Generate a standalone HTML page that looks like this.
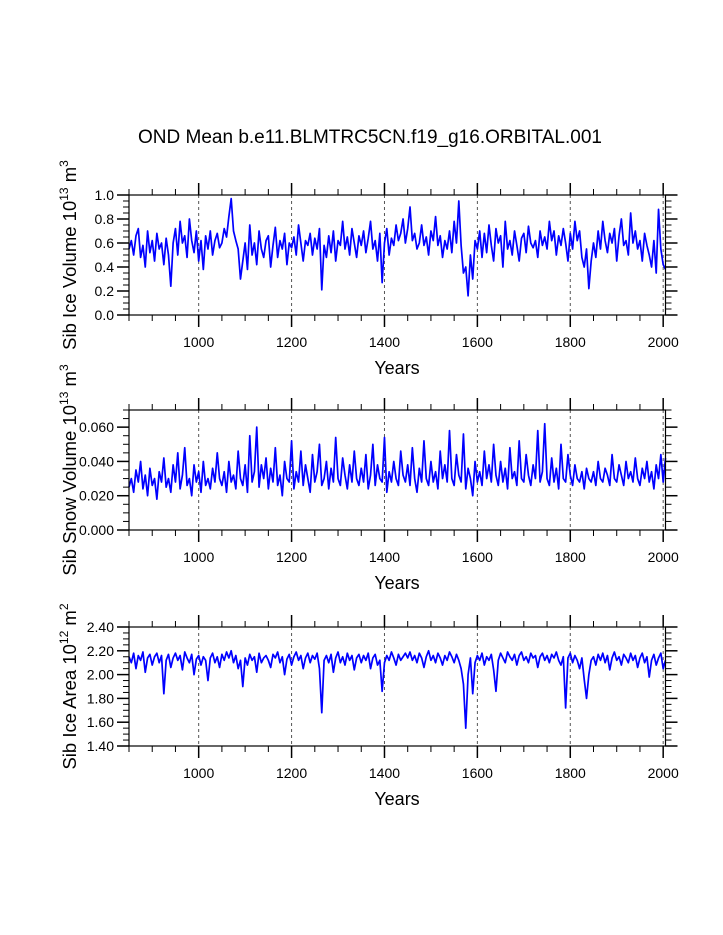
<!DOCTYPE html>
<html><head><meta charset="utf-8">
<style>
html,body{margin:0;padding:0;background:#fff;}
svg{display:block;font-family:"Liberation Sans",Arial,sans-serif;}
</style></head>
<body>
<svg id="chart" width="723" height="935" viewBox="0 0 723 935" xmlns="http://www.w3.org/2000/svg">
<text x="370" y="143" text-anchor="middle" font-size="19">OND Mean b.e11.BLMTRC5CN.f19_g16.ORBITAL.001</text>
</svg>
<script>
const years0 = 850, yearStep = 5;
const xTicks = [1000,1200,1400,1600,1800,2000];
const iceVolume = [
0.55,0.62,0.50,0.66,0.72,0.48,0.58,0.40,0.70,0.52,0.62,0.45,0.68,0.55,0.60,0.42,0.64,0.50,0.24,0.60,
0.72,0.50,0.78,0.60,0.66,0.48,0.80,0.62,0.52,0.70,0.45,0.62,0.38,0.66,0.55,0.70,0.50,0.62,0.68,0.56,
0.60,0.72,0.65,0.82,0.97,0.70,0.62,0.55,0.30,0.45,0.60,0.38,0.75,0.50,0.60,0.42,0.70,0.55,0.48,0.62,
0.66,0.40,0.58,0.73,0.48,0.62,0.55,0.68,0.42,0.60,0.56,0.65,0.50,0.75,0.60,0.45,0.62,0.58,0.68,0.50,
0.64,0.55,0.72,0.21,0.58,0.48,0.66,0.52,0.70,0.45,0.62,0.58,0.78,0.55,0.65,0.50,0.72,0.60,0.48,0.66,
0.58,0.70,0.52,0.64,0.78,0.55,0.62,0.45,0.68,0.27,0.60,0.72,0.50,0.64,0.58,0.75,0.62,0.68,0.80,0.60,
0.72,0.90,0.62,0.68,0.55,0.60,0.75,0.58,0.65,0.50,0.70,0.62,0.82,0.58,0.66,0.48,0.62,0.55,0.70,0.52,
0.78,0.60,0.95,0.58,0.35,0.40,0.16,0.50,0.30,0.62,0.55,0.70,0.48,0.68,0.52,0.75,0.58,0.45,0.72,0.60,
0.66,0.40,0.78,0.55,0.62,0.50,0.70,0.58,0.45,0.64,0.68,0.52,0.74,0.60,0.56,0.62,0.48,0.70,0.58,0.65,
0.55,0.78,0.62,0.70,0.50,0.66,0.58,0.72,0.60,0.45,0.68,0.55,0.78,0.62,0.70,0.48,0.40,0.55,0.22,0.45,
0.60,0.48,0.70,0.55,0.78,0.62,0.52,0.68,0.60,0.72,0.45,0.66,0.80,0.58,0.62,0.50,0.85,0.60,0.70,0.55,
0.62,0.45,0.68,0.58,0.50,0.40,0.62,0.35,0.88,0.55,0.42,0.38];
const snowVolume = [
0.025,0.030,0.022,0.035,0.028,0.040,0.024,0.032,0.020,0.036,0.026,0.030,0.018,0.034,0.028,0.042,0.025,0.030,0.022,0.038,
0.028,0.045,0.024,0.032,0.048,0.026,0.030,0.020,0.038,0.028,0.034,0.022,0.040,0.026,0.030,0.024,0.036,0.028,0.045,0.030,
0.026,0.034,0.022,0.040,0.028,0.032,0.024,0.046,0.030,0.026,0.038,0.022,0.055,0.028,0.034,0.060,0.025,0.038,0.030,0.042,
0.024,0.036,0.028,0.048,0.026,0.032,0.020,0.040,0.030,0.028,0.052,0.024,0.034,0.028,0.046,0.026,0.038,0.030,0.022,0.044,
0.028,0.034,0.050,0.026,0.030,0.040,0.024,0.036,0.028,0.054,0.030,0.026,0.042,0.032,0.024,0.038,0.028,0.046,0.030,0.026,
0.036,0.028,0.044,0.024,0.032,0.050,0.026,0.038,0.030,0.028,0.054,0.022,0.034,0.028,0.040,0.030,0.026,0.046,0.032,0.028,
0.038,0.026,0.048,0.030,0.022,0.036,0.028,0.052,0.030,0.026,0.040,0.028,0.034,0.024,0.046,0.030,0.038,0.028,0.058,0.030,
0.026,0.044,0.032,0.028,0.056,0.024,0.036,0.030,0.020,0.040,0.028,0.034,0.026,0.046,0.030,0.038,0.028,0.050,0.032,0.026,
0.040,0.028,0.036,0.024,0.048,0.030,0.034,0.026,0.052,0.030,0.028,0.044,0.032,0.026,0.038,0.030,0.058,0.028,0.034,0.062,
0.030,0.026,0.042,0.028,0.036,0.024,0.050,0.030,0.028,0.044,0.032,0.026,0.038,0.030,0.028,0.034,0.024,0.036,0.030,0.028,
0.034,0.026,0.040,0.030,0.028,0.036,0.032,0.026,0.044,0.030,0.028,0.038,0.032,0.026,0.040,0.030,0.034,0.028,0.042,0.030,
0.026,0.036,0.030,0.040,0.028,0.034,0.024,0.038,0.030,0.044,0.028,0.042];
const iceArea = [
2.15,2.10,2.18,2.05,2.16,2.12,2.19,2.02,2.14,2.17,2.08,2.15,2.18,2.10,2.16,1.84,2.12,2.17,2.06,2.14,
2.18,2.12,2.16,2.04,2.19,2.14,2.10,2.17,2.00,2.13,2.16,2.08,2.15,2.12,1.95,2.14,2.18,2.10,2.15,2.06,
2.17,2.12,2.19,2.14,2.20,2.10,2.16,2.05,2.12,1.90,2.14,2.08,2.17,2.12,2.15,2.02,2.18,2.10,2.14,2.16,
2.12,2.06,2.17,2.14,2.19,2.10,2.15,2.00,2.13,2.17,2.08,2.15,2.19,2.12,2.16,2.05,2.14,2.18,2.10,2.16,
2.13,2.18,2.05,1.68,2.12,2.16,2.10,2.17,2.02,2.14,2.19,2.10,2.15,2.08,2.18,2.12,2.16,2.04,2.14,2.17,
2.10,2.16,2.12,2.18,2.05,2.14,2.17,2.08,2.12,1.86,2.10,2.16,2.12,2.19,2.14,2.08,2.17,2.12,2.15,2.18,
2.14,2.19,2.12,2.16,2.10,2.18,2.14,2.06,2.15,2.20,2.12,2.16,2.10,2.18,2.14,2.08,2.16,2.12,2.19,2.15,
2.10,2.17,2.12,2.05,1.92,1.55,2.00,2.14,1.84,2.10,2.16,2.12,2.18,2.08,2.15,2.12,2.17,2.04,1.86,2.12,
2.18,2.14,2.10,2.19,2.15,2.12,2.17,2.08,2.16,2.19,2.12,2.15,2.10,2.18,2.14,2.16,2.06,2.15,2.18,2.12,
2.16,2.10,2.17,2.14,2.19,2.12,2.08,2.15,1.72,2.14,2.18,2.10,2.16,2.12,2.05,2.14,1.96,1.80,2.00,2.12,
2.15,2.08,2.17,2.12,2.18,2.10,2.16,2.04,2.14,2.19,2.12,2.15,2.08,2.17,2.14,2.10,2.18,2.12,2.16,2.06,
2.14,2.18,2.10,2.15,1.98,2.12,2.17,2.08,2.14,2.18,2.05,2.12];
const iceTicks = ["0.0","0.2","0.4","0.6","0.8","1.0"];
const snowTicks = ["0.000","0.020","0.040","0.060"];
const areaTicks = ["1.40","1.60","1.80","2.00","2.20","2.40"];

const NS="http://www.w3.org/2000/svg";
const svg=document.getElementById('chart');
const X0=129, X1=665.5, XMIN=850, XMAX=2005;
const xs=v=>X0+(v-XMIN)/(XMAX-XMIN)*(X1-X0);
function mk(tag,attrs,parent){const e=document.createElementNS(NS,tag);for(const k in attrs)e.setAttribute(k,attrs[k]);(parent||svg).appendChild(e);return e;}

function panel(name,top,bot,ymin,ymax,major,minor,ticks,data,label,expo,unitExp){
  const g=mk('g',{});
  
  
  const ys=v=>bot-(v-ymin)/(ymax-ymin)*(bot-top);
  xTicks.forEach(t=>{const l=mk('line',{x1:xs(t),x2:xs(t),y1:top,y2:bot,stroke:'#555','stroke-width':1,'stroke-dasharray':'3,3'},g);
    });
  let d='';data.forEach((v,i)=>{d+=(i?'L':'M')+xs(years0+i*yearStep).toFixed(2)+','+ys(v).toFixed(2);});
  const p=mk('path',{d:d,fill:'none',stroke:'#0000ff','stroke-width':1.7,'stroke-linejoin':'round'},g);
  
  const r=mk('rect',{x:X0,y:top,width:X1-X0,height:bot-top,fill:'none',stroke:'#000','stroke-width':1.2},g);
  
  for(let t=XMIN;t<=XMAX;t+=50){const mj=(t%200===0);const L=mj?12:6;
    mk('line',{x1:xs(t),x2:xs(t),y1:top,y2:top-L,stroke:'#000','stroke-width':mj?1.5:1},g);
    mk('line',{x1:xs(t),x2:xs(t),y1:bot,y2:bot+L,stroke:'#000','stroke-width':mj?1.5:1},g);}
  xTicks.forEach(t=>{const tx=mk('text',{x:xs(t),y:bot+32,'text-anchor':'middle','font-size':14},g);tx.textContent=t;
    });
  const yt=mk('text',{x:397,y:bot+59,'text-anchor':'middle','font-size':18},g);yt.textContent='Years';
  
  const n=Math.round((ymax-ymin)/minor);
  for(let i=0;i<=n;i++){const v=ymin+i*minor;const mj=Math.abs(Math.round((v-ymin)/major)*major-(v-ymin))<1e-9;const L=mj?12:6;
    mk('line',{x1:X0,x2:X0-L,y1:ys(v),y2:ys(v),stroke:'#000','stroke-width':mj?1.5:1},g);
    mk('line',{x1:X1,x2:X1+L,y1:ys(v),y2:ys(v),stroke:'#000','stroke-width':mj?1.5:1},g);}
  ticks.forEach((t,i)=>{const tx=mk('text',{x:114,y:ys(ymin+i*major)+5,'text-anchor':'end','font-size':14},g);tx.textContent=t;
    });
  const cy=(top+bot)/2;
  const tt=mk('text',{x:0,y:0,'text-anchor':'middle','font-size':18.5,transform:'translate(76,'+cy+') rotate(-90)'},g);
  
  const a=mk('tspan',{},tt);a.textContent=label+' 10';
  const b=mk('tspan',{'font-size':12,dy:-8},tt);b.textContent=expo;
  const c=mk('tspan',{dy:8},tt);c.textContent=' m';
  const e=mk('tspan',{'font-size':12,dy:-8},tt);e.textContent=unitExp;
}
panel('sib-ice-volume',195,315,0,1.0,0.2,0.05,iceTicks,iceVolume,'Sib Ice Volume','13','3');
panel('sib-snow-volume',410,530,0,0.07,0.02,0.005,snowTicks,snowVolume,'Sib Snow Volume','13','3');
panel('sib-ice-area',627,746,1.4,2.4,0.2,0.05,areaTicks,iceArea,'Sib Ice Area','12','2');
</script>
</body></html>
